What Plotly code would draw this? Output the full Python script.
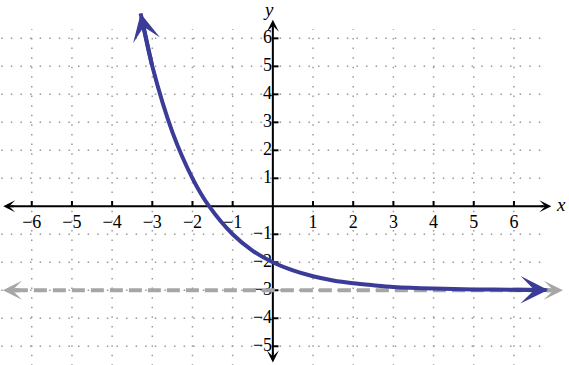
import plotly.graph_objects as go

# ---- data ----
curve_x = [-3.29, -3.0, -2.5, -2.0, -1.6, -1.0, -0.5, 0.0, 0.5, 1.0, 1.5, 2.0, 2.5, 3.0, 4.0, 5.0, 6.0, 6.85]
curve_y = [6.89, 5.0, 2.65, 1.0, 0.03, -1.0, -1.59, -2.0, -2.29, -2.5, -2.65, -2.75, -2.82, -2.88, -2.94, -2.97, -2.98, -2.99]

asym_x = [-6.72, 7.22]
asym_y = -3

x_ticks = [-6, -5, -4, -3, -2, -1, 1, 2, 3, 4, 5, 6]
x_tick_labels = ["\u22126", "\u22125", "\u22124", "\u22123", "\u22122", "\u22121", "1", "2", "3", "4", "5", "6"]
y_ticks = [-5, -4, -3, -2, -1, 1, 2, 3, 4, 5, 6]
y_tick_labels = ["\u22125", "\u22124", "\u22123", "\u22122", "\u22121", "1", "2", "3", "4", "5", "6"]

x_axis_ends = [-6.71, 6.93]
y_axis_ends = [-5.58, 6.66]
grid_x_ext = [-6.76, 6.72]
grid_y_ext = [-5.7, 6.33]

# ---- styles ----
BLUE = "#3B3B98"
GRAY = "#A6A6A6"
GRID = "#9A9A9A"
FONT = "Liberation Serif, Times New Roman, serif"
XR = [-6.79, 7.37]
YR = [-5.67, 7.37]

fig = go.Figure()

# grid
gx, gy = [], []
for yv in y_ticks:
    gx += [grid_x_ext[0], grid_x_ext[1], None]
    gy += [yv, yv, None]
for xv in x_ticks:
    gx += [xv, xv, None]
    gy += [grid_y_ext[0], grid_y_ext[1], None]
fig.add_trace(go.Scatter(x=gx, y=gy, mode="lines",
                         line=dict(color=GRID, width=1.5, dash="1.5px,8.1px"),
                         hoverinfo="skip"))

# tick labels
fig.add_trace(go.Scatter(x=x_ticks, y=[-0.6] * len(x_ticks), mode="text",
                         text=x_tick_labels, textposition="middle center",
                         textfont=dict(family=FONT, size=18, color="black"),
                         hoverinfo="skip"))
fig.add_trace(go.Scatter(x=[-0.02] * len(y_ticks), y=y_ticks, mode="text",
                         text=y_tick_labels, textposition="middle left",
                         textfont=dict(family=FONT, size=18, color="black"),
                         hoverinfo="skip"))

# axes lines
fig.add_trace(go.Scatter(x=[x_axis_ends[0] + 0.2, x_axis_ends[1] - 0.2, None, 0, 0],
                         y=[0, 0, None, y_axis_ends[0] + 0.3, y_axis_ends[1] - 0.3],
                         mode="lines", line=dict(color="black", width=2), hoverinfo="skip"))
# tick marks
tx, ty = [], []
for xv in x_ticks:
    tx += [xv, xv, None]
    ty += [0, 0.19, None]
for yv in y_ticks:
    tx += [0, 0.14, None]
    ty += [yv, yv, None]
fig.add_trace(go.Scatter(x=tx, y=ty, mode="lines", line=dict(color="black", width=2),
                         hoverinfo="skip"))

# asymptote
fig.add_trace(go.Scatter(x=[asym_x[0] + 0.3, asym_x[1] - 0.3], y=[asym_y, asym_y], mode="lines",
                         line=dict(color=GRAY, width=4, dash="13px,6px"), hoverinfo="skip"))

# curve
fig.add_trace(go.Scatter(x=curve_x, y=curve_y, mode="lines",
                         line=dict(color=BLUE, width=4, shape="spline", smoothing=0.8),
                         hoverinfo="skip"))

ann = []
def arrow(x0, y0, x1, y1, color, width, size):
    ann.append(dict(x=x1, y=y1, ax=x0, ay=y0, xref="x", yref="y", axref="x", ayref="y",
                    text="", showarrow=True, arrowhead=3, arrowsize=size,
                    arrowwidth=width, arrowcolor=color))

# axis arrowheads
arrow(x_axis_ends[0] + 0.3, 0, x_axis_ends[0], 0, "black", 2, 1.0)
arrow(x_axis_ends[1] - 0.3, 0, x_axis_ends[1], 0, "black", 2, 1.0)
arrow(0, y_axis_ends[0] + 0.4, 0, y_axis_ends[0], "black", 2, 1.0)
arrow(0, y_axis_ends[1] - 0.4, 0, y_axis_ends[1], "black", 2, 1.0)
# asymptote arrowheads
arrow(asym_x[0] + 0.45, asym_y, asym_x[0], asym_y, GRAY, 4, 0.8)
arrow(asym_x[1] - 0.45, asym_y, asym_x[1], asym_y, GRAY, 4, 0.8)
# curve arrowheads
arrow(curve_x[1], curve_y[1], curve_x[0], curve_y[0], BLUE, 4, 1.15)
arrow(curve_x[-2], curve_y[-2], curve_x[-1], curve_y[-1], BLUE, 4, 1.15)

# axis titles
ann.append(dict(x=x_axis_ends[1] + 0.25, y=0.05, xref="x", yref="y", text="<i>x</i>", showarrow=False,
                font=dict(family=FONT, size=19, color="black"), xanchor="center", yanchor="middle"))
ann.append(dict(x=-0.1, y=y_axis_ends[1] + 0.36, xref="x", yref="y", text="<i>y</i>", showarrow=False,
                font=dict(family=FONT, size=19, color="black"), xanchor="center", yanchor="middle"))

fig.update_layout(
    width=569, height=365,
    margin=dict(l=0, r=0, t=0, b=0),
    plot_bgcolor="white", paper_bgcolor="white",
    showlegend=False,
    xaxis=dict(range=XR, visible=False, fixedrange=True),
    yaxis=dict(range=YR, visible=False, fixedrange=True),
    annotations=ann,
)

fig.write_html("out.html")
